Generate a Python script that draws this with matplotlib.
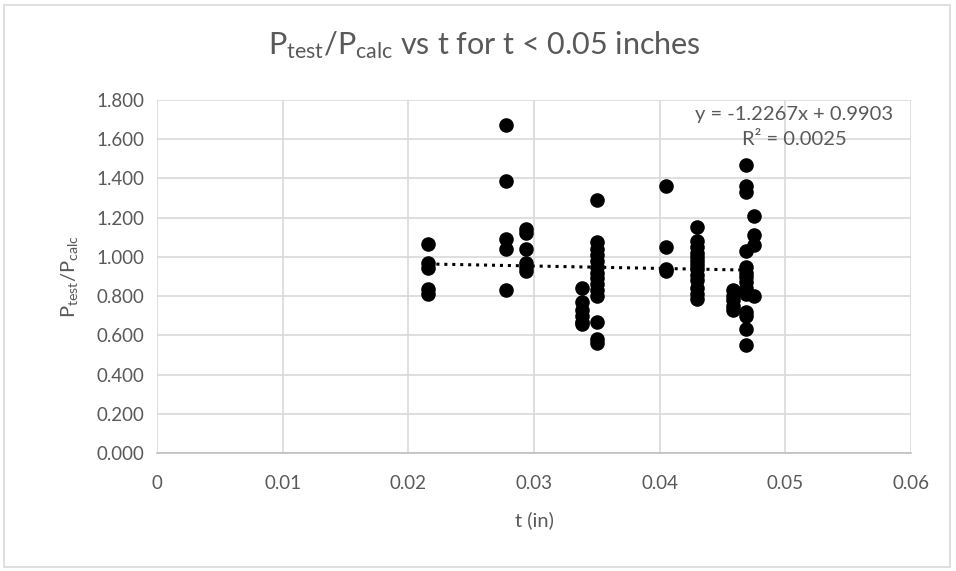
import matplotlib
matplotlib.use("Agg")
import matplotlib.pyplot as plt
from matplotlib.patches import Rectangle
from matplotlib.ticker import FuncFormatter, MultipleLocator
import numpy as np

# thickness groups (in) and the Ptest/Pcalc values read at each one
t_groups = [0.0216, 0.0278, 0.0294, 0.0338, 0.0350, 0.0405, 0.0430, 0.0458, 0.0469, 0.0475]
ratio_groups = [
    [1.065, 0.97, 0.945, 0.835, 0.81],
    [1.675, 1.385, 1.09, 1.04, 0.83],
    [1.14, 1.12, 1.04, 0.97, 0.95, 0.93],
    [0.84, 0.77, 0.73, 0.70, 0.67, 0.66],
    [1.29, 1.075, 1.04, 1.01, 0.98, 0.95, 0.92, 0.89, 0.86, 0.83, 0.80, 0.67, 0.58, 0.56],
    [1.36, 1.05, 0.94, 0.93],
    [1.15, 1.08, 1.05, 1.02, 1.00, 0.98, 0.96, 0.94, 0.91, 0.88, 0.84, 0.81, 0.785],
    [0.83, 0.80, 0.78, 0.75, 0.73],
    [1.47, 1.36, 1.33, 1.03, 0.95, 0.92, 0.90, 0.87, 0.84, 0.81, 0.72, 0.70, 0.63, 0.55],
    [1.21, 1.11, 1.06, 0.80],
]
# trendline as reported on the chart
slope = -1.2267
intercept = 0.9903
r2 = 0.0025

t = np.concatenate([[g] * len(r) for g, r in zip(t_groups, ratio_groups)])
ratio = np.concatenate(ratio_groups)

plt.rcParams['font.family'] = ['Lato', 'DejaVu Sans']
grey = '#595959'

fig = plt.figure(figsize=(9.56, 5.71), dpi=100)
ax = fig.add_axes([157 / 956, 1 - 453 / 571, (911 - 157) / 956, (453 - 100) / 571])

ax.scatter(t, ratio, s=110, color='black', zorder=3, linewidths=0)

xs = np.array([t.min(), t.max()])
ax.plot(xs, slope * xs + intercept, color='black', linestyle=(0, (1, 1.6)), lw=2.2, zorder=2)

ax.set_xlim(0, 0.06)
ax.set_ylim(0, 1.8)
ax.xaxis.set_major_locator(MultipleLocator(0.01))
ax.yaxis.set_major_locator(MultipleLocator(0.2))
ax.xaxis.set_major_formatter(FuncFormatter(lambda v, p: '0' if abs(v) < 1e-9 else f'{v:g}'))
ax.yaxis.set_major_formatter(FuncFormatter(lambda v, p: f'{v:.3f}'))
ax.grid(True, color='#d9d9d9', lw=1.2, zorder=0)
ax.set_axisbelow(True)
for side in ['top', 'right', 'left']:
    ax.spines[side].set_visible(False)
ax.spines['bottom'].set_color('#bfbfbf')
ax.spines['bottom'].set_linewidth(1.2)
ax.tick_params(length=0, labelsize=13.5, colors=grey)
ax.tick_params(axis='x', pad=16)
ax.tick_params(axis='y', pad=9)

ax.set_xlabel('t (in)', fontsize=14.5, color=grey, labelpad=14)
ax.set_ylabel(r'$\mathregular{P_{test}/P_{calc}}$', fontsize=14.5, color=grey, labelpad=12)

fig.text(0.507, 1 - 45 / 571, r'$\mathregular{P_{test}/P_{calc}}$ vs t for t < 0.05 inches',
         ha='center', va='center', fontsize=22, color=grey)

ax.text(794 / 956, 1 - 127 / 571,
        f'y = {slope:.4f}x + {intercept:.4f}\nR\u00b2 = {r2:.4f}',
        transform=fig.transFigure, ha='center', va='center', multialignment='center',
        fontsize=14.5, color=grey, linespacing=1.6, zorder=4)

fig.patches.append(Rectangle((4 / 956, 4 / 571), 946 / 956, 562 / 571, transform=fig.transFigure,
                             fill=False, edgecolor='#d9d9d9', lw=1.2))

fig.savefig('out.png', dpi=100)
